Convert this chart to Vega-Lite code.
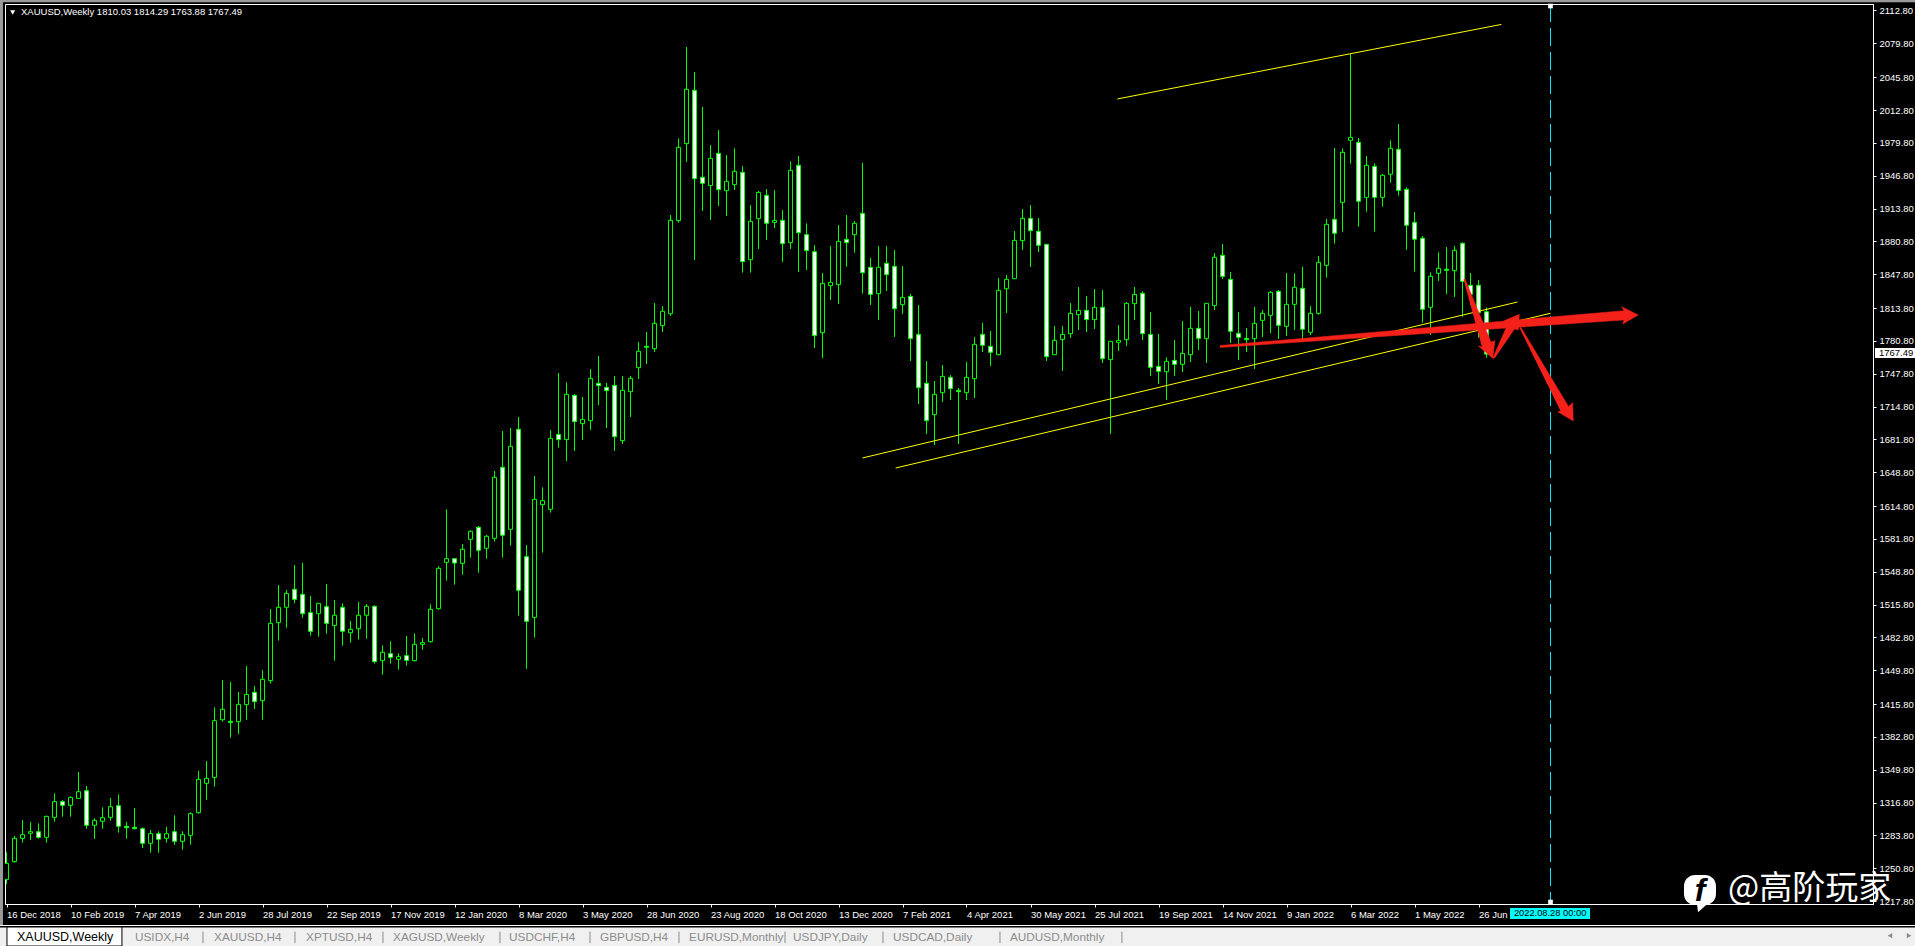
{"$schema":"https://vega.github.io/schema/vega-lite/v6.json","width":1868,"height":900,"autosize":{"type":"none"},"padding":{"left":5,"top":4,"right":42,"bottom":42},"background":"#000000","view":{"stroke":"#ffffff","strokeWidth":1,"fill":"#000000"},"config":{"axis":{"labelOverlap":false,"labelBound":false,"labelFlush":false}},
"datasets":{"candles":[
{"d":"2018-12-16","o":1239.6,"h":1266.8,"l":1235.0,"c":1255.7},{"d":"2018-12-23","o":1257.4,"h":1283.2,"l":1256.4,"c":1280.8},{"d":"2018-12-30","o":1280.8,"h":1299.2,"l":1276.5,"c":1284.5},{"d":"2019-01-06","o":1285.9,"h":1297.2,"l":1279.2,"c":1287.5},{"d":"2019-01-13","o":1287.5,"h":1295.9,"l":1280.5,"c":1281.8},{"d":"2019-01-20","o":1281.8,"h":1303.6,"l":1276.5,"c":1302.9},{"d":"2019-01-27","o":1301.9,"h":1326,"l":1297.6,"c":1317.7},{"d":"2019-02-03","o":1317.7,"h":1319.3,"l":1302.6,"c":1314},
{"d":"2019-02-10","o":1314,"h":1323,"l":1302.6,"c":1322},{"d":"2019-02-17","o":1321,"h":1347.5,"l":1321,"c":1327.7},{"d":"2019-02-24","o":1328.7,"h":1333.4,"l":1290.5,"c":1293.9},{"d":"2019-03-03","o":1293.9,"h":1300.9,"l":1280.2,"c":1298.9},{"d":"2019-03-10","o":1298,"h":1312,"l":1290.5,"c":1301.6},{"d":"2019-03-17","o":1301.9,"h":1321.4,"l":1298.6,"c":1312.6},{"d":"2019-03-24","o":1313.6,"h":1325,"l":1286.5,"c":1292.9},{"d":"2019-03-31","o":1292.9,"h":1297.2,"l":1280.5,"c":1291.5},
{"d":"2019-04-07","o":1291.9,"h":1311.3,"l":1289.9,"c":1290.5},{"d":"2019-04-14","o":1290.5,"h":1291.9,"l":1271.1,"c":1275.8},{"d":"2019-04-21","o":1275.8,"h":1289.2,"l":1266.4,"c":1285.5},{"d":"2019-04-28","o":1285.5,"h":1287.9,"l":1266.4,"c":1279.8},{"d":"2019-05-05","o":1280.8,"h":1292.2,"l":1276.5,"c":1285.5},{"d":"2019-05-12","o":1287.5,"h":1304,"l":1274.4,"c":1277.8},{"d":"2019-05-19","o":1277.8,"h":1287.9,"l":1269.4,"c":1284.5},{"d":"2019-05-26","o":1283.8,"h":1307,"l":1274.4,"c":1305.6},
{"d":"2019-06-02","o":1306.6,"h":1348.5,"l":1305.6,"c":1340.1},{"d":"2019-06-09","o":1336.1,"h":1358.5,"l":1319.6,"c":1341.1},{"d":"2019-06-16","o":1342.1,"h":1412.5,"l":1332.8,"c":1399.1},{"d":"2019-06-23","o":1400,"h":1440,"l":1398.1,"c":1410.5},{"d":"2019-06-30","o":1398.4,"h":1438,"l":1382,"c":1397.1},{"d":"2019-07-07","o":1398.1,"h":1427.9,"l":1385.7,"c":1415.5},{"d":"2019-07-14","o":1415.2,"h":1454,"l":1400,"c":1425.5},{"d":"2019-07-21","o":1427.6,"h":1433.9,"l":1410.8,"c":1418.2},
{"d":"2019-07-28","o":1419.2,"h":1450,"l":1400,"c":1440.6},{"d":"2019-08-04","o":1439.3,"h":1511.3,"l":1436.3,"c":1496.9},{"d":"2019-08-11","o":1497.6,"h":1535.4,"l":1479.5,"c":1513},{"d":"2019-08-18","o":1513,"h":1530.4,"l":1492.5,"c":1527},{"d":"2019-08-25","o":1531.1,"h":1555.5,"l":1517,"c":1521},{"d":"2019-09-01","o":1526,"h":1557.5,"l":1502.6,"c":1506.6},{"d":"2019-09-08","o":1507.6,"h":1524.4,"l":1484.5,"c":1488.9},{"d":"2019-09-15","o":1506.6,"h":1517,"l":1483.5,"c":1517},
{"d":"2019-09-22","o":1513.7,"h":1536.4,"l":1486.5,"c":1496.9},{"d":"2019-09-29","o":1494.6,"h":1520.4,"l":1459.4,"c":1505},{"d":"2019-10-06","o":1513,"h":1517,"l":1474.4,"c":1488.9},{"d":"2019-10-13","o":1487.5,"h":1499.3,"l":1477.5,"c":1490.9},{"d":"2019-10-20","o":1491.5,"h":1518.3,"l":1480.5,"c":1505},{"d":"2019-10-27","o":1505,"h":1516.3,"l":1481.5,"c":1514},{"d":"2019-11-03","o":1514,"h":1515,"l":1456.4,"c":1458.4},{"d":"2019-11-10","o":1459.4,"h":1474.8,"l":1445.3,"c":1467.8},
{"d":"2019-11-17","o":1466.4,"h":1478.8,"l":1456.4,"c":1462.7},{"d":"2019-11-24","o":1460.7,"h":1466.8,"l":1450.3,"c":1463.4},{"d":"2019-12-01","o":1464.4,"h":1484.2,"l":1454.4,"c":1459.7},{"d":"2019-12-08","o":1459.4,"h":1486.9,"l":1458.4,"c":1475.8},{"d":"2019-12-15","o":1475.8,"h":1482.2,"l":1470.4,"c":1477.5},{"d":"2019-12-22","o":1478.5,"h":1516,"l":1477.5,"c":1511},{"d":"2019-12-29","o":1511.6,"h":1554.2,"l":1510.6,"c":1552.2},{"d":"2020-01-05","o":1558.2,"h":1611.5,"l":1539.8,"c":1561.9},
{"d":"2020-01-12","o":1561.9,"h":1561.9,"l":1535.8,"c":1557.5},{"d":"2020-01-19","o":1557.2,"h":1576.6,"l":1545.8,"c":1571.3},{"d":"2020-01-26","o":1581.3,"h":1590.4,"l":1562.9,"c":1589.4},{"d":"2020-02-02","o":1593.4,"h":1594.7,"l":1547.8,"c":1570.3},{"d":"2020-02-09","o":1572.3,"h":1585.7,"l":1561.9,"c":1584.4},{"d":"2020-02-16","o":1582.3,"h":1650,"l":1579,"c":1643.6},{"d":"2020-02-23","o":1653.7,"h":1690.2,"l":1562.9,"c":1585.4},{"d":"2020-03-01","o":1591.4,"h":1693.2,"l":1575,"c":1674.8},
{"d":"2020-03-08","o":1691.9,"h":1704.3,"l":1504.6,"c":1530.1},{"d":"2020-03-15","o":1563.9,"h":1575.6,"l":1451.3,"c":1498.9},{"d":"2020-03-22","o":1502.9,"h":1645,"l":1482.5,"c":1621.5},{"d":"2020-03-29","o":1616.2,"h":1633.6,"l":1567.9,"c":1620.2},{"d":"2020-04-05","o":1611.5,"h":1691.2,"l":1608.2,"c":1682.8},{"d":"2020-04-12","o":1686.8,"h":1748.5,"l":1673.4,"c":1681.5},{"d":"2020-04-19","o":1681.5,"h":1739.1,"l":1660,"c":1727},{"d":"2020-04-26","o":1726,"h":1727.4,"l":1670.1,"c":1699.6},
{"d":"2020-05-03","o":1697.6,"h":1724.4,"l":1681.1,"c":1701.9},{"d":"2020-05-10","o":1700.6,"h":1752.5,"l":1691.2,"c":1743.1},{"d":"2020-05-17","o":1738.1,"h":1765.6,"l":1716.3,"c":1735.8},{"d":"2020-05-24","o":1734.1,"h":1738.4,"l":1693.2,"c":1730.7},{"d":"2020-05-31","o":1736.1,"h":1745.5,"l":1670.1,"c":1684.5},{"d":"2020-06-07","o":1680.5,"h":1745.5,"l":1677.1,"c":1731.1},{"d":"2020-06-14","o":1729.7,"h":1745.5,"l":1704.3,"c":1743.1},{"d":"2020-06-21","o":1753.8,"h":1779.6,"l":1742.5,"c":1770.3},
{"d":"2020-06-28","o":1775.3,"h":1789.7,"l":1757.5,"c":1774.3},{"d":"2020-07-05","o":1772.9,"h":1818.8,"l":1769.6,"c":1798.4},{"d":"2020-07-12","o":1796.1,"h":1815.8,"l":1789.7,"c":1810.5},{"d":"2020-07-19","o":1808.1,"h":1907.3,"l":1805.8,"c":1901.9},{"d":"2020-07-26","o":1901.6,"h":1984.3,"l":1899.6,"c":1975.3},{"d":"2020-08-02","o":1979,"h":2076.1,"l":1960.5,"c":2033.6},{"d":"2020-08-09","o":2032.6,"h":2051,"l":1862,"c":1943.8},{"d":"2020-08-16","o":1945.2,"h":2015.8,"l":1911.3,"c":1939.1},
{"d":"2020-08-23","o":1936.8,"h":1977.6,"l":1902.3,"c":1964.2},{"d":"2020-08-30","o":1969.3,"h":1992.7,"l":1916.3,"c":1932.7},{"d":"2020-09-06","o":1931.7,"h":1967.6,"l":1906.3,"c":1941.1},{"d":"2020-09-13","o":1937.8,"h":1974.3,"l":1932.4,"c":1951.2},{"d":"2020-09-20","o":1950.2,"h":1956.5,"l":1849.3,"c":1860.4},{"d":"2020-09-27","o":1862.4,"h":1917.3,"l":1849.3,"c":1900.9},{"d":"2020-10-04","o":1903.6,"h":1931.4,"l":1873.1,"c":1930},{"d":"2020-10-11","o":1927,"h":1933.4,"l":1882.2,"c":1898.9},
{"d":"2020-10-18","o":1899.9,"h":1932.4,"l":1894.2,"c":1901.9},{"d":"2020-10-25","o":1901.9,"h":1912.3,"l":1860,"c":1878.5},{"d":"2020-11-01","o":1879.5,"h":1961.2,"l":1873.1,"c":1952.2},{"d":"2020-11-08","o":1957.2,"h":1966.6,"l":1850,"c":1889.5},{"d":"2020-11-15","o":1887.5,"h":1898.9,"l":1852,"c":1871.4},{"d":"2020-11-22","o":1870.4,"h":1877.1,"l":1773.6,"c":1786},{"d":"2020-11-29","o":1789,"h":1849,"l":1763.6,"c":1838.6},{"d":"2020-12-06","o":1836.3,"h":1876.1,"l":1821.8,"c":1839.6},
{"d":"2020-12-13","o":1837.3,"h":1897.2,"l":1817.8,"c":1880.8},{"d":"2020-12-20","o":1882.8,"h":1907.3,"l":1855.3,"c":1879.5},{"d":"2020-12-27","o":1887.5,"h":1901.2,"l":1869.4,"c":1898.9},{"d":"2021-01-03","o":1908.9,"h":1959.5,"l":1828.2,"c":1849.3},{"d":"2021-01-10","o":1854.7,"h":1864.1,"l":1816.8,"c":1827.5},{"d":"2021-01-17","o":1828.2,"h":1876.1,"l":1801.7,"c":1854.7},{"d":"2021-01-24","o":1858.7,"h":1876.1,"l":1830.9,"c":1847.3},{"d":"2021-01-31","o":1855.7,"h":1872.1,"l":1784.7,"c":1813.1},
{"d":"2021-02-07","o":1817.2,"h":1856,"l":1807.8,"c":1824.5},{"d":"2021-02-14","o":1825.5,"h":1827.9,"l":1760.5,"c":1783},{"d":"2021-02-21","o":1787.3,"h":1816.8,"l":1717.3,"c":1733.7},{"d":"2021-02-28","o":1738.1,"h":1760.5,"l":1687.2,"c":1700.6},{"d":"2021-03-07","o":1706.6,"h":1740.4,"l":1676.1,"c":1727},{"d":"2021-03-14","o":1728.7,"h":1756.5,"l":1719.3,"c":1745.1},{"d":"2021-03-21","o":1744.1,"h":1746.5,"l":1721.3,"c":1732.7},{"d":"2021-03-28","o":1731.1,"h":1733.4,"l":1677.1,"c":1729.7},
{"d":"2021-04-04","o":1728.7,"h":1759.5,"l":1721.3,"c":1744.1},{"d":"2021-04-11","o":1742.8,"h":1784.7,"l":1723.4,"c":1777.3},{"d":"2021-04-18","o":1787.3,"h":1798.7,"l":1769.6,"c":1776.3},{"d":"2021-04-25","o":1775.3,"h":1790.7,"l":1755.5,"c":1769.3},{"d":"2021-05-02","o":1766.9,"h":1844,"l":1766.2,"c":1831.6},{"d":"2021-05-09","o":1833.2,"h":1847,"l":1808.8,"c":1842.6},{"d":"2021-05-16","o":1843.3,"h":1891.2,"l":1843.3,"c":1881.8},{"d":"2021-05-23","o":1881.5,"h":1913.3,"l":1872.1,"c":1903.9},
{"d":"2021-05-30","o":1903.9,"h":1917.3,"l":1855,"c":1891.5},{"d":"2021-06-06","o":1890.9,"h":1904.3,"l":1870.1,"c":1876.8},{"d":"2021-06-13","o":1877.8,"h":1877.8,"l":1760.5,"c":1764.9},{"d":"2021-06-20","o":1766.9,"h":1795.7,"l":1766.6,"c":1781.3},{"d":"2021-06-27","o":1782.3,"h":1795.7,"l":1750.5,"c":1787.3},{"d":"2021-07-04","o":1788,"h":1818.8,"l":1783.7,"c":1808.4},{"d":"2021-07-11","o":1807.1,"h":1834.9,"l":1791.7,"c":1811.5},{"d":"2021-07-18","o":1811.5,"h":1825.9,"l":1789.7,"c":1802.1},
{"d":"2021-07-25","o":1802.1,"h":1832.9,"l":1792.7,"c":1814.5},{"d":"2021-08-01","o":1814.5,"h":1831.9,"l":1758.5,"c":1762.9},{"d":"2021-08-08","o":1761.9,"h":1780.6,"l":1687.2,"c":1780.3},{"d":"2021-08-15","o":1779.3,"h":1796.7,"l":1770.6,"c":1781.3},{"d":"2021-08-22","o":1782,"h":1819.8,"l":1775.6,"c":1818.5},{"d":"2021-08-29","o":1818.2,"h":1834.9,"l":1801.7,"c":1827.5},{"d":"2021-09-05","o":1828.5,"h":1830.6,"l":1781.7,"c":1788},{"d":"2021-09-12","o":1787.3,"h":1809.8,"l":1745.5,"c":1754.2},
{"d":"2021-09-19","o":1755.2,"h":1787.7,"l":1737.4,"c":1750.2},{"d":"2021-09-26","o":1749.8,"h":1764.2,"l":1721.3,"c":1760.2},{"d":"2021-10-03","o":1761.2,"h":1781.7,"l":1745.5,"c":1757.2},{"d":"2021-10-10","o":1757.2,"h":1800.7,"l":1749.5,"c":1768.2},{"d":"2021-10-17","o":1766.9,"h":1814.8,"l":1759.5,"c":1793.4},{"d":"2021-10-24","o":1793.4,"h":1810.8,"l":1771.6,"c":1783.3},{"d":"2021-10-31","o":1783,"h":1818.8,"l":1758.5,"c":1818.5},{"d":"2021-11-07","o":1816.2,"h":1869.1,"l":1811.8,"c":1864.7},
{"d":"2021-11-14","o":1866.7,"h":1878.1,"l":1843,"c":1845.6},{"d":"2021-11-21","o":1842.6,"h":1850,"l":1778.6,"c":1790.4},{"d":"2021-11-28","o":1788.3,"h":1809.8,"l":1761.5,"c":1784.3},{"d":"2021-12-05","o":1783.3,"h":1793.7,"l":1769.6,"c":1782},{"d":"2021-12-12","o":1783,"h":1814.8,"l":1752.5,"c":1798.4},{"d":"2021-12-19","o":1801.4,"h":1811.8,"l":1784.7,"c":1808.4},{"d":"2021-12-26","o":1806.4,"h":1830.9,"l":1788.7,"c":1829.6},{"d":"2022-01-02","o":1830.6,"h":1831.9,"l":1782.7,"c":1796.4},
{"d":"2022-01-09","o":1795.4,"h":1849,"l":1785.7,"c":1817.5},{"d":"2022-01-16","o":1817.5,"h":1848.7,"l":1791.7,"c":1834.6},{"d":"2022-01-23","o":1833.6,"h":1855,"l":1779.6,"c":1792.4},{"d":"2022-01-30","o":1789.4,"h":1815.8,"l":1786.7,"c":1808.4},{"d":"2022-02-06","o":1808.4,"h":1866.1,"l":1807,"c":1859.7},{"d":"2022-02-13","o":1856.7,"h":1903.3,"l":1844.3,"c":1897.9},{"d":"2022-02-20","o":1902.9,"h":1974.6,"l":1878.5,"c":1888.9},{"d":"2022-02-27","o":1920,"h":1974,"l":1890.5,"c":1970.3},
{"d":"2022-03-06","o":1982.3,"h":2069,"l":1958.9,"c":1985.3},{"d":"2022-03-13","o":1980.3,"h":1984.7,"l":1895.5,"c":1921},{"d":"2022-03-20","o":1925,"h":1966.6,"l":1910.6,"c":1957.2},{"d":"2022-03-27","o":1956.2,"h":1959.2,"l":1890.5,"c":1925},{"d":"2022-04-03","o":1925,"h":1948.5,"l":1915.7,"c":1947.2},{"d":"2022-04-10","o":1948.2,"h":1982.3,"l":1939.8,"c":1974.3},{"d":"2022-04-17","o":1973.3,"h":1998.7,"l":1926.7,"c":1932},{"d":"2022-04-24","o":1933.1,"h":1935.1,"l":1872.4,"c":1896.9},
{"d":"2022-05-01","o":1899.9,"h":1910.3,"l":1850.3,"c":1882.9},{"d":"2022-05-08","o":1883.9,"h":1886.2,"l":1799.1,"c":1812.5},{"d":"2022-05-15","o":1814.5,"h":1849.7,"l":1786.7,"c":1845.7},{"d":"2022-05-22","o":1848.7,"h":1869.8,"l":1841,"c":1853.7},{"d":"2022-05-29","o":1852.7,"h":1875.1,"l":1827.9,"c":1851.7},{"d":"2022-06-05","o":1851.3,"h":1876.1,"l":1824.9,"c":1871.8},{"d":"2022-06-12","o":1878.8,"h":1879.8,"l":1805.1,"c":1840.6},{"d":"2022-06-19","o":1836.6,"h":1849,"l":1816.8,"c":1827.5},
{"d":"2022-06-26","o":1836.6,"h":1841.9,"l":1784,"c":1809.1},{"d":"2022-07-03","o":1810.03,"h":1814.29,"l":1763.88,"c":1767.49}
],
"trend":[{"id":"a","d":"2021-01-03","p":1663.1},{"id":"a","d":"2022-07-30","p":1819.8},{"id":"b","d":"2021-02-01","p":1653},{"id":"b","d":"2022-08-28","p":1808.5},{"id":"c","d":"2021-08-14","p":2023.9},{"id":"c","d":"2022-07-16","p":2098.8}],
"arrows":[
{"id":"1","n":1,"d":"2021-11-11T19:00:00Z","p":1776.1},{"id":"1","n":2,"d":"2022-10-31T07:00:00Z","p":1811.1},{"id":"1","n":3,"d":"2022-10-29T07:00:00Z","p":1815.1},{"id":"1","n":4,"d":"2022-11-12T19:00:00Z","p":1806.8},{"id":"1","n":5,"d":"2022-10-30T05:00:00Z","p":1797.7},{"id":"1","n":6,"d":"2022-10-31T07:00:00Z","p":1801.75},{"id":"1","n":7,"d":"2021-11-11T19:00:00Z","p":1774.1},
{"id":"2","n":1,"d":"2022-06-12T22:00:00Z","p":1842.45},{"id":"2","n":2,"d":"2022-06-14T05:00:00Z","p":1842.95},{"id":"2","n":3,"d":"2022-07-06T22:00:00Z","p":1779.65},{"id":"2","n":4,"d":"2022-07-10T10:00:00Z","p":1780.95},{"id":"2","n":5,"d":"2022-07-08T10:00:00Z","p":1763.25},{"id":"2","n":6,"d":"2022-06-25T19:00:00Z","p":1775.65},{"id":"2","n":7,"d":"2022-06-29T02:00:00Z","p":1774.65},
{"id":"3","n":1,"d":"2022-07-08T10:00:00Z","p":1763.25},{"id":"3","n":2,"d":"2022-07-20T12:00:00Z","p":1794.75},{"id":"3","n":3,"d":"2022-07-18T07:00:00Z","p":1801.05},{"id":"3","n":4,"d":"2022-07-31T17:00:00Z","p":1807.45},{"id":"3","n":5,"d":"2022-07-30T19:00:00Z","p":1791.7},{"id":"3","n":6,"d":"2022-07-27T12:00:00Z","p":1792.75},{"id":"3","n":7,"d":"2022-07-10T00:00:00Z","p":1763.25},
{"id":"4","n":1,"d":"2022-07-31T22:00:00Z","p":1793.7},{"id":"4","n":2,"d":"2022-08-02T05:00:00Z","p":1794.2},{"id":"4","n":3,"d":"2022-09-12T18:00:00Z","p":1714.85},{"id":"4","n":4,"d":"2022-09-16T10:00:00Z","p":1718.65},{"id":"4","n":5,"d":"2022-09-16T22:00:00Z","p":1700.25},{"id":"4","n":6,"d":"2022-09-03T07:00:00Z","p":1709.55},{"id":"4","n":7,"d":"2022-09-05T18:00:00Z","p":1710.3}
],
"tabs":[{"tab":"USIDX,H4","d":"2019-04-07T10:00:00Z"},{"tab":"XAUUSD,H4","d":"2019-06-15T14:00:00Z"},{"tab":"XPTUSD,H4","d":"2019-09-04T02:00:00Z"},{"tab":"XAGUSD,Weekly","d":"2019-11-19T05:00:00Z"},{"tab":"USDCHF,H4","d":"2020-02-28T17:00:00Z"},{"tab":"GBPUSD,H4","d":"2020-05-18T07:00:00Z"},{"tab":"EURUSD,Monthly","d":"2020-08-04T05:00:00Z"},{"tab":"USDJPY,Daily","d":"2020-11-03T05:00:00Z"},{"tab":"USDCAD,Daily","d":"2021-01-29T17:00:00Z"},{"tab":"AUDUSD,Monthly","d":"2021-05-12T00:00:00Z"}],
"seps":[{"d":"2019-06-05T22:00:00Z"},{"d":"2019-08-25T10:00:00Z"},{"d":"2019-11-10T10:00:00Z"},{"d":"2020-02-20T19:00:00Z"},{"d":"2020-05-09T14:00:00Z"},{"d":"2020-07-26T10:00:00Z"},{"d":"2020-10-27T05:00:00Z"},{"d":"2021-01-20T22:00:00Z"},{"d":"2021-05-03T07:00:00Z"},{"d":"2021-08-18T00:00:00Z"}]
},
"encoding":{"x":{"field":"d","type":"temporal","title":null,"scale":{"type":"utc","domain":["2018-12-14T16:30:00Z","2023-06-06T04:30:00Z"],"nice":false,"padding":0},"axis":{"orient":"bottom","title":null,"grid":false,"format":"%-d %b %Y","values":["2018-12-16","2019-02-10","2019-04-07","2019-06-02","2019-07-28","2019-09-22","2019-11-17","2020-01-12","2020-03-08","2020-05-03","2020-06-28","2020-08-23","2020-10-18","2020-12-13","2021-02-07","2021-04-04","2021-05-30","2021-07-25","2021-09-19","2021-11-14","2022-01-09","2022-03-06","2022-05-01","2022-06-26"],"domainColor":"#ffffff","tickColor":"#ffffff","tickSize":3,"labelColor":"#ffffff","labelFont":"Liberation Sans","labelFontSize":9.5,"labelAlign":"left","labelPadding":2,"labelOverlap":false,"labelFlush":false}}},
"layer":[
{"data":{"values":[{"d":"2018-12-10T07:30:00Z","d2":"2023-07-13T12:00:00Z","p":2122.4}]},"mark":{"type":"rule","color":"#9a9a9a","strokeWidth":2.5},"encoding":{"x2":{"field":"d2"},"y":{"field":"p","type":"quantitative","title":null,"scale":{"domain":[1214.83,2119.33],"nice":false,"zero":false},"axis":{"orient":"right","title":null,"grid":false,"format":".2f","tickCount":60,"values":[2112.8,2079.8,2045.8,2012.8,1979.8,1946.8,1913.8,1880.8,1847.8,1813.8,1780.8,1747.8,1714.8,1681.8,1648.8,1614.8,1581.8,1548.8,1515.8,1482.8,1449.8,1415.8,1382.8,1349.8,1316.8,1283.8,1250.8,1217.8],"domainColor":"#ffffff","tickColor":"#ffffff","tickSize":3,"labelColor":"#ffffff","labelFont":"Liberation Sans","labelFontSize":9.5,"labelPadding":3,"labelOverlap":false,"labelFlush":false}}}},
{"data":{"values":[{"d":"2018-12-11T14:24:00Z","p":2123.3,"p2":1192.7}]},"mark":{"type":"rule","color":"#9a9a9a","strokeWidth":3},"encoding":{"y":{"field":"p","type":"quantitative"},"y2":{"field":"p2"}}},
{"data":{"values":[{"d":"2018-12-10T07:30:00Z","d2":"2023-07-13T12:00:00Z","p":1191.2,"p2":1172.6}]},"mark":{"type":"rect","color":"#f0f0f0"},"encoding":{"x2":{"field":"d2"},"y":{"field":"p","type":"quantitative"},"y2":{"field":"p2"}}},
{"data":{"values":[{"d":"2018-12-10T07:30:00Z","d2":"2023-07-13T12:00:00Z","p":1193.2}]},"mark":{"type":"rule","color":"#ffffff","strokeWidth":1},"encoding":{"x2":{"field":"d2"},"y":{"field":"p","type":"quantitative"}}},
{"data":{"values":[{"d":"2018-12-16T10:00:00Z","d2":"2019-03-27T00:00:00Z","p":1191.7,"p2":1172.6}]},"mark":{"type":"rect","fill":"#ffffff","stroke":"#000000","strokeWidth":1},"encoding":{"x2":{"field":"d2"},"y":{"field":"p","type":"quantitative"},"y2":{"field":"p2"}}},
{"data":{"name":"seps"},"mark":{"type":"rule","color":"#8a8a8a","strokeWidth":1},"encoding":{"y":{"datum":1187,"type":"quantitative"},"y2":{"datum":1175.5}}},
{"data":{"name":"tabs"},"mark":{"type":"text","align":"left","baseline":"middle","font":"Liberation Sans","fontSize":11.8,"color":"#8c8c8c"},"encoding":{"y":{"datum":1181.7,"type":"quantitative"},"text":{"field":"tab"}}},
{"data":{"values":[{"tab":"XAUUSD,Weekly","d":"2018-12-25T04:30:00Z"}]},"mark":{"type":"text","align":"left","baseline":"middle","font":"Liberation Sans","fontSize":12.5,"color":"#000000"},"encoding":{"y":{"datum":1181.7,"type":"quantitative"},"text":{"field":"tab"}}},
{"data":{"values":[{"d":"2023-06-21","s":"triangle-left"},{"d":"2023-07-07T17:00:00Z","s":"triangle-right"}]},"mark":{"type":"point","filled":true,"size":28,"color":"#8c8c8c","opacity":1},"encoding":{"y":{"datum":1183,"type":"quantitative"},"shape":{"field":"s","type":"nominal","scale":null,"legend":null}}},
{"data":{"name":"candles"},"mark":{"type":"rule","color":"#00ff00","strokeWidth":1,"clip":true},"encoding":{"y":{"field":"l","type":"quantitative"},"y2":{"field":"h"}}},
{"data":{"name":"candles"},"mark":{"type":"bar","width":4,"stroke":"#00ff00","strokeWidth":1,"clip":true},"encoding":{"y":{"field":"o","type":"quantitative"},"y2":{"field":"c"},"fill":{"condition":{"test":"datum.c > datum.o","value":"#000000"},"value":"#ffffff"}}},
{"data":{"name":"trend"},"mark":{"type":"line","color":"#ffff00","strokeWidth":1},"encoding":{"y":{"field":"p","type":"quantitative"},"detail":{"field":"id"}}},
{"data":{"values":[{"d":"2022-08-28","p":2119.33,"p2":1214.83}]},"mark":{"type":"rule","color":"#00e5ff","strokeWidth":1,"strokeDash":[18,6]},"encoding":{"y":{"field":"p","type":"quantitative"},"y2":{"field":"p2"}}},
{"data":{"values":[{"d":"2022-08-28","p":2117.3},{"d":"2022-08-28","p":1216.8}]},"mark":{"type":"point","shape":"square","filled":true,"size":22,"color":"#ffffff","opacity":1},"encoding":{"y":{"field":"p","type":"quantitative"}}},
{"data":{"name":"arrows"},"mark":{"type":"line","fill":"#f4211a","stroke":"#f4211a","strokeWidth":0.5,"clip":false},"encoding":{"y":{"field":"p","type":"quantitative"},"detail":{"field":"id"},"order":{"field":"n"}}},
{"data":{"values":[{"d":"2018-12-21T10:00:00Z","p":2110.8}]},"mark":{"type":"point","shape":"triangle-down","filled":true,"size":26,"color":"#ffffff","opacity":1},"encoding":{"y":{"field":"p","type":"quantitative"}}},
{"data":{"values":[{"d":"2018-12-28T17:00:00Z","p":2110.8,"t":"XAUUSD,Weekly  1810.03 1814.29 1763.88 1767.49"}]},"mark":{"type":"text","align":"left","baseline":"middle","font":"Liberation Sans","fontSize":9.5,"color":"#ffffff"},"encoding":{"y":{"field":"p","type":"quantitative"},"text":{"field":"t"}}},
{"data":{"values":[{"d":"2023-06-07T22:00:00Z","d2":"2023-07-13T12:00:00Z","p":1773.6,"p2":1763.6}]},"mark":{"type":"rect","color":"#ffffff"},"encoding":{"x2":{"field":"d2"},"y":{"field":"p","type":"quantitative"},"y2":{"field":"p2"}}},
{"data":{"values":[{"d":"2023-06-11T10:00:00Z","p":1768.5,"t":"1767.49"}]},"mark":{"type":"text","align":"left","baseline":"middle","font":"Liberation Sans","fontSize":9.5,"color":"#000000"},"encoding":{"y":{"field":"p","type":"quantitative"},"text":{"field":"t"}}},
{"data":{"values":[{"d":"2022-07-23T14:00:00Z","d2":"2022-10-01T14:00:00Z","p":1210.8,"p2":1199.75}]},"mark":{"type":"rect","color":"#00ffff"},"encoding":{"x2":{"field":"d2"},"y":{"field":"p","type":"quantitative"},"y2":{"field":"p2"}}},
{"data":{"values":[{"d":"2022-07-27","p":1205.3,"t":"2022.08.28 00:00"}]},"mark":{"type":"text","align":"left","baseline":"middle","font":"Liberation Sans","fontSize":9.3,"color":"#000000"},"encoding":{"y":{"field":"p","type":"quantitative"},"text":{"field":"t"}}},
{"data":{"values":[{"d":"2022-12-22T19:00:00Z","d2":"2023-01-19T19:00:00Z","p":1243.95,"p2":1213.8}]},"mark":{"type":"rect","color":"#ffffff","cornerRadius":11},"encoding":{"x2":{"field":"d2"},"y":{"field":"p","type":"quantitative"},"y2":{"field":"p2"}}},
{"data":{"values":[{"n":1,"d":"2023-01-03T05:00:00Z","p":1214.8},{"n":2,"d":"2023-01-11T22:00:00Z","p":1214.8},{"n":3,"d":"2023-01-04T02:00:00Z","p":1206.8}]},"mark":{"type":"line","fill":"#ffffff","stroke":"#ffffff","strokeWidth":0.5},"encoding":{"y":{"field":"p","type":"quantitative"},"order":{"field":"n"}}},
{"data":{"values":[{"d":"2023-01-05T19:00:00Z","p":1227.9,"t":"f"}]},"mark":{"type":"text","align":"center","baseline":"middle","font":"Liberation Sans","fontWeight":"bold","fontStyle":"italic","fontSize":32,"color":"#000000"},"encoding":{"y":{"field":"p","type":"quantitative"},"text":{"field":"t"}}},
{"data":{"values":[{"d":"2023-01-30T10:00:00Z","p":1229.9,"t":"@高阶玩家"}]},"mark":{"type":"text","align":"left","baseline":"middle","font":"Noto Sans CJK SC","fontSize":33,"color":"#ffffff"},"encoding":{"y":{"field":"p","type":"quantitative"},"text":{"field":"t"}}}
]}
